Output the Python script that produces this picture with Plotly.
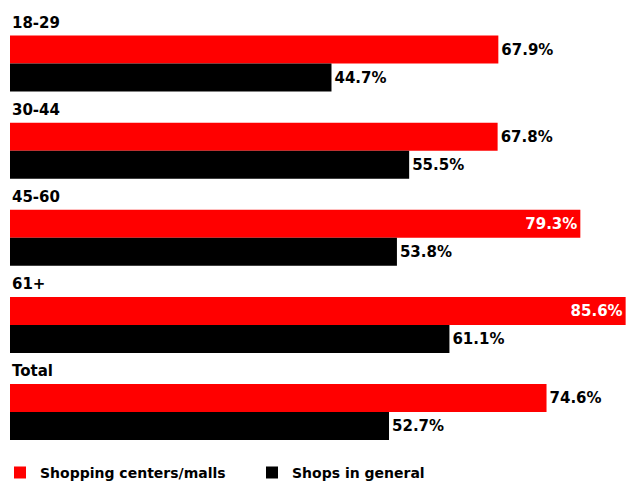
import plotly.graph_objects as go

groups = ["18-29", "30-44", "45-60", "61+", "Total"]
malls = [67.9, 67.8, 79.3, 85.6, 74.6]
shops = [44.7, 55.5, 53.8, 61.1, 52.7]
series_names = ["Shopping centers/malls", "Shops in general"]

RED = "#ff0000"
BLACK = "#000000"
FONT = "DejaVu Sans"

def positions(vals):
    return ["inside" if v > 75 else "outside" for v in vals]

fig = go.Figure()
fig.add_trace(go.Bar(
    y=groups, x=malls, orientation="h", name=series_names[0],
    marker=dict(color=RED, line=dict(width=0)),
    text=[f"{v:.1f}%" for v in malls], textposition=positions(malls),
    insidetextanchor="end",
    insidetextfont=dict(color="white", family=FONT, size=15, weight="bold"),
    outsidetextfont=dict(color="black", family=FONT, size=15, weight="bold"),
    cliponaxis=False,
))
fig.add_trace(go.Bar(
    y=groups, x=shops, orientation="h", name=series_names[1],
    marker=dict(color=BLACK, line=dict(width=0)),
    text=[f"{v:.1f}%" for v in shops], textposition="outside",
    outsidetextfont=dict(color="black", family=FONT, size=15, weight="bold"),
    cliponaxis=False,
))

for g in groups:
    fig.add_annotation(x=0, y=g, xref="x", yref="y", text=g, showarrow=False,
                       xanchor="left", yanchor="middle", yshift=41, xshift=0,
                       font=dict(family=FONT, size=15, color="black", weight="bold"))

fig.update_layout(
    width=626, height=484,
    margin=dict(l=10, r=0, t=20, b=20, autoexpand=False),
    paper_bgcolor="white", plot_bgcolor="white",
    barmode="group", bargap=0.357, bargroupgap=0,
    font=dict(family=FONT, size=15, color="black"),
    xaxis=dict(range=[0, 85.65], visible=False, showgrid=False, zeroline=False),
    yaxis=dict(autorange="reversed", visible=False, showgrid=False, zeroline=False,
               categoryorder="array", categoryarray=groups),
    showlegend=True,
    legend=dict(orientation="h", xref="container", x=0, xanchor="left",
                yref="container", y=0.056, yanchor="top",
                traceorder="normal", entrywidth=207,
                font=dict(family=FONT, size=14, color="black", weight="bold"),
                bgcolor="rgba(0,0,0,0)"),
)

fig.write_html("out.html")
